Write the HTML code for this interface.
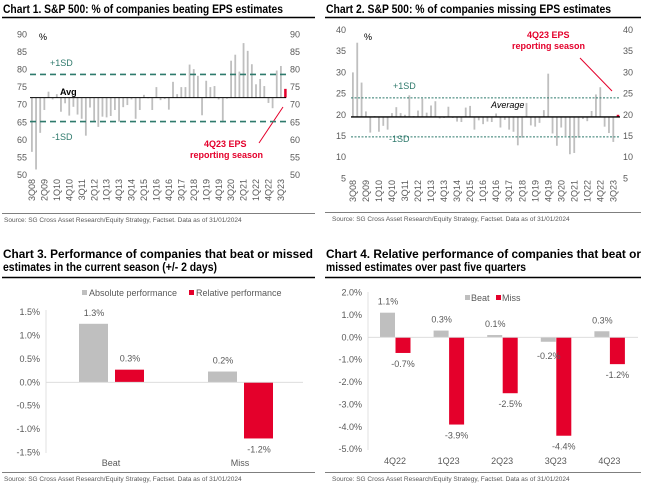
<!DOCTYPE html>
<html><head><meta charset="utf-8">
<style>
body{margin:0;background:#fff;}
svg{display:block;font-family:"Liberation Sans",sans-serif;}
.t{font-weight:bold;font-size:11.5px;fill:#000;}
.tk{font-size:9px;fill:#595959;}
.src{font-size:6.5px;fill:#595959;}
</style></head>
<body>
<svg id="s" width="646" height="486" viewBox="0 0 646 486"></svg>
<script>
// Chart 1 data
const quarterLabels=["3Q08","2Q09","1Q10","4Q10","3Q11","2Q12","1Q13","4Q13","3Q14","2Q15","1Q16","4Q16","3Q17","2Q18","1Q19","4Q19","3Q20","2Q21","1Q22","4Q22","3Q23"];
const beatValues=[56.6,51.6,62,68.5,73.7,71.5,73,68,70.4,66.9,69.4,67.2,66,61.2,69.2,65.2,63.7,66.6,66.4,66.8,68.5,65.2,69.3,69.9,71.5,66,68.5,72.8,71.8,68.5,75,71.3,71.6,68.6,76.5,73,75,75,81.4,80.1,78.2,67,76.8,75,75.3,71.5,65,71.7,82.5,84.2,79.4,87.5,85.3,81.5,75.8,77.3,75.3,70.5,69,79.7,81,74.5];
const beatAvg=72, beatPlus=78.6, beatMinus=65.2;
const beatTicks=[50,55,60,65,70,75,80,85,90];
// Chart 2 data
const missValues=[30,37,27.6,20.8,15.8,19.7,16,17.4,16.5,20.4,21.8,20.4,20,24.6,19.7,21,23.8,20.5,22.2,23.2,19.4,19.6,21.9,19.6,18.4,18.3,21.7,22.1,16.5,18.7,17.8,18.4,18.3,20.3,17,18.8,16.5,16,12.8,14.6,22.8,17.5,17.2,18.1,21.1,29.7,15.6,12.7,17,15,10.7,11,14.6,19,18.5,20.9,24.8,26.5,17.2,15.7,13.6,20];
const missAvg=19.5, missPlus=24, missMinus=14.8;
const missTicks=[5,10,15,20,25,30,35,40];
// Chart 3 data
const c3Categories=["Beat","Miss"];
const c3Absolute=[1.25,0.23];
const c3Relative=[0.27,-1.2];
const c3AbsLabels=["1.3%","0.2%"];
const c3RelLabels=["0.3%","-1.2%"];
const c3Ticks=[-1.5,-1.0,-0.5,0,0.5,1.0,1.5];
// Chart 4 data
const c4Categories=["4Q22","1Q23","2Q23","3Q23","4Q23"];
const c4Beat=[1.1,0.3,0.1,-0.2,0.27];
const c4Miss=[-0.7,-3.9,-2.5,-4.4,-1.2];
const c4BeatLabels=["1.1%","0.3%","0.1%","-0.2%","0.3%"];
const c4MissLabels=["-0.7%","-3.9%","-2.5%","-4.4%","-1.2%"];
const c4Ticks=[-5,-4,-3,-2,-1,0,1,2];

const S=document.getElementById('s');
const NS="http://www.w3.org/2000/svg";
function mk(tag,attrs,parent,text){const e=document.createElementNS(NS,tag);for(const k in attrs)e.setAttribute(k,attrs[k]);if(text!==undefined)e.textContent=text;(parent||S).appendChild(e);return e;}
const GREY="#bfbfbf",RED="#e4002b",TEAL="#2f7a6c";

function title(x,y,txt,len,name){const t=mk('text',{x:x,y:y,class:'t',textLength:len,lengthAdjust:'spacingAndGlyphs'},S,txt);}
function hline(x1,x2,y,w,c,name){const l=mk('line',{x1:x1,x2:x2,y1:y,y2:y,stroke:c,'stroke-width':w});return l;}
function source(x,y,name){const t=mk('text',{x:x,y:y,class:'src'},S,"Source: SG Cross Asset Research/Equity Strategy, Factset. Data as of 31/01/2024");}

// ---------- Chart 1 ----------
title(3,13,"Chart 1. S&P 500: % of companies beating EPS estimates",280,'chart1-title');
hline(2,315,17.5,1.5,'#000','chart1-title-rule');
(function(){
 const y=v=>34.3+(90-v)*3.52;
 const x=i=>32+i*4.15;
 const g=mk('g',{});
 beatTicks.forEach(v=>{
  const a=mk('text',{x:27,y:y(v)+3,class:'tk','text-anchor':'end'},g,v);
  const b=mk('text',{x:290,y:y(v)+3,class:'tk'},g,v);
 });
 beatValues.forEach((v,i)=>{
  const last=i===beatValues.length-1;
  const r=mk('rect',{x:x(i)-1,y:Math.min(y(v),y(beatAvg)),width:last?2.5:1.8,height:Math.abs(y(v)-y(beatAvg)),fill:last?RED:GREY},g);
  
 });
 let l=hline(30,286,y(beatAvg),1,'#000','chart1-average-line');
 l=hline(30,286,y(beatPlus),1.6,TEAL,'chart1-plus-1sd-line');l.setAttribute('stroke-dasharray','6,4');
 l=hline(30,286,y(beatMinus),1.6,TEAL,'chart1-minus-1sd-line');l.setAttribute('stroke-dasharray','6,4');
 const lab=(tx,xx,yy,c,nm,fw)=>{const t=mk('text',{x:xx,y:yy,'font-size':9,fill:c,'font-weight':fw||'normal'},g,tx);};
 lab("%",39,40,'#000','chart1-unit-label');
 lab("+1SD",50,66,TEAL,'chart1-plus-1sd-label');
 lab("Avg",60,95,'#000','chart1-avg-label','bold');
 lab("-1SD",52,140,TEAL,'chart1-minus-1sd-label');
 lab("4Q23 EPS",204,147,RED,'chart1-annotation-line1','bold');
 lab("reporting season",190,158,RED,'chart1-annotation-line2','bold');
 const ar=mk('line',{x1:259,y1:143,x2:283,y2:107,stroke:RED,'stroke-width':1},g);
 quarterLabels.forEach((q,k)=>{const xx=x(k*3)+3;const t=mk('text',{x:xx,y:179,class:'tk','text-anchor':'end',transform:`rotate(-90 ${xx} 179)`},g,q);});
})();
hline(2,315,213.5,0.7,'#555','chart1-source-rule');
source(4,222,'chart1-source');

// ---------- Chart 2 ----------
title(326,13,"Chart 2. S&P 500: % of companies missing EPS estimates",285,'chart2-title');
hline(325,641,17.5,1.5,'#000','chart2-title-rule');
(function(){
 const y=v=>30+(40-v)*4.24;
 const x=i=>353+i*4.34;
 const g=mk('g',{});
 missTicks.forEach(v=>{
  const a=mk('text',{x:346,y:y(v)+3,class:'tk','text-anchor':'end'},g,v);
  const b=mk('text',{x:623,y:y(v)+3,class:'tk'},g,v);
 });
 missValues.forEach((v,i)=>{
  const last=i===missValues.length-1;
  const r=mk('rect',{x:x(i)-1,y:Math.min(y(v),y(missAvg)),width:last?2.5:1.8,height:Math.max(1.5,Math.abs(y(v)-y(missAvg))),fill:last?RED:GREY},g);
  
 });
 let l=hline(351,620,y(missAvg),1.3,'#000','chart2-average-line');
 l=hline(351,620,y(missPlus),1,TEAL,'chart2-plus-1sd-line');l.setAttribute('stroke-dasharray','2,1.5');
 l=hline(351,620,y(missMinus),1,TEAL,'chart2-minus-1sd-line');l.setAttribute('stroke-dasharray','2,1.5');
 const lab=(tx,xx,yy,c,nm,fw,fs)=>{const t=mk('text',{x:xx,y:yy,'font-size':9,fill:c,'font-weight':fw||'normal','font-style':fs||'normal'},g,tx);};
 lab("%",364,40,'#000','chart2-unit-label');
 lab("+1SD",393,89,TEAL,'chart2-plus-1sd-label');
 lab("Average",491,108,'#000','chart2-average-label','normal','italic');
 lab("-1SD",389,142,TEAL,'chart2-minus-1sd-label');
 lab("4Q23 EPS",527,38,RED,'chart2-annotation-line1','bold');
 lab("reporting season",512,49,RED,'chart2-annotation-line2','bold');
 const ar=mk('line',{x1:580,y1:58,x2:612,y2:91,stroke:RED,'stroke-width':1},g);
 quarterLabels.forEach((q,k)=>{const xx=x(k*3)+3;const t=mk('text',{x:xx,y:180,class:'tk','text-anchor':'end',transform:`rotate(-90 ${xx} 180)`},g,q);});
})();
hline(325,641,212.5,0.7,'#555','chart2-source-rule');
source(332,221,'chart2-source');

// ---------- Chart 3 ----------
title(3,258,"Chart 3. Performance of companies that beat or missed",310,'chart3-title-line1');
title(3,271,"estimates in the current season (+/- 2 days)",214,'chart3-title-line2');
hline(2,315,277.5,1.5,'#000','chart3-title-rule');
(function(){
 const y=v=>382.3-v*46.8;
 const g=mk('g',{});
 c3Ticks.forEach(v=>{const t=mk('text',{x:40,y:y(v)+3,class:'tk','text-anchor':'end'},g,v.toFixed(1)+'%');});
 const ax=mk('line',{x1:46,x2:46,y1:310,y2:453,stroke:'#d9d9d9','stroke-width':0.8},g);
 hline(46,303,y(0),0.8,'#d9d9d9','chart3-zero-line');
 const cx=[111,240];
 c3Categories.forEach((c,i)=>{
  const a=c3Absolute[i],r=c3Relative[i];
  const b1=mk('rect',{x:cx[i]-32,y:Math.min(y(a),y(0)),width:29,height:Math.abs(y(a)-y(0)),fill:GREY},g);
  const b2=mk('rect',{x:cx[i]+4,y:Math.min(y(r),y(0)),width:29,height:Math.abs(y(r)-y(0)),fill:RED},g);
  const l1=mk('text',{x:cx[i]-17,y:(a>=0?y(a)-8:y(a)+14),class:'tk','text-anchor':'middle'},g,c3AbsLabels[i]);
  const l2=mk('text',{x:cx[i]+19,y:(r>=0?y(r)-8:y(r)+14),class:'tk','text-anchor':'middle'},g,c3RelLabels[i]);
  const cl=mk('text',{x:cx[i],y:466,class:'tk','text-anchor':'middle'},g,c);
 });
 const lg1=mk('rect',{x:82,y:290,width:5,height:5,fill:GREY},g);
 const lt1=mk('text',{x:89,y:296,class:'tk','font-size':8.5},g,"Absolute performance");
 const lg2=mk('rect',{x:189,y:290,width:5,height:5,fill:RED},g);
 const lt2=mk('text',{x:196,y:296,class:'tk','font-size':8.5},g,"Relative performance");
})();
hline(2,315,472.5,0.7,'#555','chart3-source-rule');
source(4,481,'chart3-source');

// ---------- Chart 4 ----------
title(326,258,"Chart 4. Relative performance of companies that beat or",315,'chart4-title-line1');
title(326,271,"missed estimates over past five quarters",200,'chart4-title-line2');
hline(325,641,277.5,1.5,'#000','chart4-title-rule');
(function(){
 const y=v=>337.3-v*22.37;
 const g=mk('g',{});
 c4Ticks.forEach(v=>{const t=mk('text',{x:362,y:y(v)+3,class:'tk','text-anchor':'end'},g,v.toFixed(1)+'%');});
 const ax=mk('line',{x1:368,x2:368,y1:292,y2:450,stroke:'#d9d9d9','stroke-width':0.8},g);
 hline(368,638,y(0),0.8,'#d9d9d9','chart4-zero-line');
 c4Categories.forEach((c,i)=>{
  const cx=395+i*53.6;
  const a=c4Beat[i],r=c4Miss[i];
  const b1=mk('rect',{x:cx-15,y:Math.min(y(a),y(0)),width:15,height:Math.abs(y(a)-y(0)),fill:GREY},g);
  const b2=mk('rect',{x:cx+0.5,y:Math.min(y(r),y(0)),width:15,height:Math.abs(y(r)-y(0)),fill:RED},g);
  const l1=mk('text',{x:cx-7,y:(a>=0?y(a)-8:y(a)+17),class:'tk','text-anchor':'middle'},g,c4BeatLabels[i]);
  const l2=mk('text',{x:cx+8,y:y(r)+14,class:'tk','text-anchor':'middle'},g,c4MissLabels[i]);
  const cl=mk('text',{x:cx,y:464,class:'tk','text-anchor':'middle'},g,c);
 });
 const lg1=mk('rect',{x:465,y:295,width:5,height:5,fill:GREY},g);
 const lt1=mk('text',{x:471,y:301,class:'tk'},g,"Beat");
 const lg2=mk('rect',{x:496,y:295,width:5,height:5,fill:RED},g);
 const lt2=mk('text',{x:502,y:301,class:'tk'},g,"Miss");
})();
hline(325,641,472.5,0.7,'#555','chart4-source-rule');
source(332,481,'chart4-source');
</script>
</body></html>
